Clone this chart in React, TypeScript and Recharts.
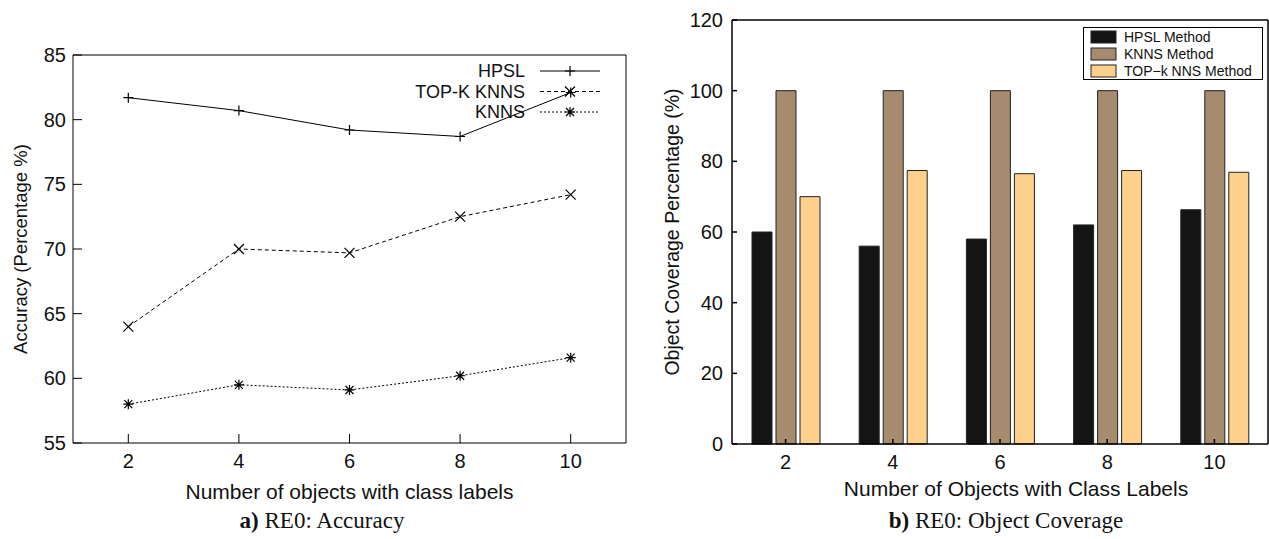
import { LineChart, Line, BarChart, Bar, XAxis, YAxis, Legend } from "recharts";

// left panel: accuracy vs number of labelled objects
const xValues = [2, 4, 6, 8, 10];
const hpslAccuracy = [81.7, 80.7, 79.2, 78.7, 82.1];
const topKAccuracy = [64.0, 70.0, 69.7, 72.5, 74.2];
const knnsAccuracy = [58.0, 59.5, 59.1, 60.2, 61.6];
const accuracyTicks = [55, 60, 65, 70, 75, 80, 85];

// right panel: object coverage
const coverageLabels = ["2", "4", "6", "8", "10"];
const hpslCoverage = [60, 56, 58, 62, 66.3];
const knnsCoverage = [100, 100, 100, 100, 100];
const topKCoverage = [70, 77.4, 76.5, 77.4, 76.9];
const coverageTicks = [0, 20, 40, 60, 80, 100, 120];

const accuracyData = xValues.map((x, i) => ({
  x,
  hpsl: hpslAccuracy[i],
  topk: topKAccuracy[i],
  knns: knnsAccuracy[i],
}));

const coverageData = coverageLabels.map((label, i) => ({
  label,
  hpsl: hpslCoverage[i],
  knns: knnsCoverage[i],
  topk: topKCoverage[i],
}));

const SANS = "'Liberation Sans', Arial, sans-serif";
const SERIF = "'Liberation Serif', 'Times New Roman', serif";

const Marker = ({ kind, cx, cy }: { kind: string; cx: number; cy: number }) => {
  const r = 5;
  let d = "";
  if (kind === "plus") d = `M${cx - r},${cy}H${cx + r}M${cx},${cy - r}V${cy + r}`;
  else if (kind === "cross")
    d = `M${cx - r},${cy - r}L${cx + r},${cy + r}M${cx - r},${cy + r}L${cx + r},${cy - r}`;
  else
    d = `M${cx - r},${cy}H${cx + r}M${cx},${cy - r}V${cy + r}M${cx - 4},${cy - 4}L${cx + 4},${cy + 4}M${cx - 4},${cy + 4}L${cx + 4},${cy - 4}`;
  return <path d={d} stroke="#000" strokeWidth={1.2} fill="none" />;
};

const markerOf: Record<string, string> = { hpsl: "plus", topk: "cross", knns: "star" };
const lineOrder = ["hpsl", "topk", "knns"];
const barOrder = ["hpsl", "knns", "topk"];

const sortBy = (payload: any[], order: string[]) =>
  [...(payload || [])].sort((a, b) => order.indexOf(a.dataKey) - order.indexOf(b.dataKey));

const AccuracyLegend = ({ payload }: any) => (
  <svg width={230} height={64}>
    {sortBy(payload, lineOrder).map((entry: any, i: number) => {
      const y = 11 + i * 20.5;
      return (
        <g key={entry.dataKey}>
          <text x={145} y={y} textAnchor="end" dominantBaseline="central" fontSize={18} fontFamily={SANS} fill="#111">
            {entry.value}
          </text>
          <line x1={160} x2={220} y1={y} y2={y} stroke="#000" strokeWidth={1} strokeDasharray={entry.payload?.strokeDasharray} />
          <Marker kind={markerOf[entry.dataKey]} cx={190} cy={y} />
        </g>
      );
    })}
  </svg>
);

const CoverageLegend = ({ payload }: any) => (
  <div style={{ width: 178, height: 51, border: "1.5px solid #000", background: "#fff" }}>
    <svg width={178} height={51}>
      {sortBy(payload, barOrder).map((entry: any, i: number) => {
        const y = 9 + i * 17;
        return (
          <g key={entry.dataKey}>
            <rect x={7} y={y - 6} width={25} height={12} fill={entry.color} stroke="#222" strokeWidth={1} />
            <text x={40} y={y} dominantBaseline="central" fontSize={14} fontFamily={SANS} fill="#111">
              {entry.value}
            </text>
          </g>
        );
      })}
    </svg>
  </div>
);

const tickStyle = { fill: "#111", fontSize: 20, fontFamily: SANS };
const titleStyle = { fill: "#111", fontSize: 21, fontFamily: SANS };

export default function App() {
  return (
    <div style={{ position: "absolute", left: 0, top: 0, width: 1269, height: 539, background: "#fff", overflow: "hidden" }}>
      <div style={{ position: "absolute", left: 0, top: 0 }}>
        <LineChart width={640} height={539} data={accuracyData} margin={{ top: 55, right: 14, bottom: 36, left: 0 }}>
          <XAxis
            dataKey="x"
            type="number"
            domain={[1, 11]}
            ticks={xValues}
            height={60}
            stroke="#000"
            tickSize={-9}
            tickMargin={20}
            tick={tickStyle}
            label={{ value: "Number of objects with class labels", position: "insideTop", offset: 41, style: titleStyle }}
          />
          <XAxis xAxisId="top" dataKey="x" type="number" domain={[1, 11]} ticks={xValues} orientation="top" mirror tick={false} tickSize={9} stroke="#000" />
          <YAxis
            type="number"
            domain={[55, 85]}
            ticks={accuracyTicks}
            width={73}
            stroke="#000"
            tickSize={-9}
            tickMargin={16}
            tick={tickStyle}
            label={{ value: "Accuracy (Percentage %)", angle: -90, position: "insideLeft", offset: 20, style: { ...titleStyle, fontSize: 18.5, textAnchor: "middle" } }}
          />
          <YAxis yAxisId="right" type="number" domain={[55, 85]} ticks={accuracyTicks} orientation="right" mirror tick={false} tickSize={9} stroke="#000" />
          <Legend layout="vertical" align="center" verticalAlign="middle" content={<AccuracyLegend />} wrapperStyle={{ left: 380, top: 60, width: 230 }} />
          <Line dataKey="hpsl" name="HPSL" stroke="#000" strokeWidth={1} dot={(p: any) => <Marker key={p.index} kind="plus" cx={p.cx} cy={p.cy} />} isAnimationActive={false} />
          <Line dataKey="topk" name="TOP-K KNNS" stroke="#000" strokeWidth={1} strokeDasharray="4 3" dot={(p: any) => <Marker key={p.index} kind="cross" cx={p.cx} cy={p.cy} />} isAnimationActive={false} />
          <Line dataKey="knns" name="KNNS" stroke="#000" strokeWidth={1} strokeDasharray="2 2" dot={(p: any) => <Marker key={p.index} kind="star" cx={p.cx} cy={p.cy} />} isAnimationActive={false} />
        </LineChart>
      </div>

      <div style={{ position: "absolute", left: 640, top: 0 }}>
        <BarChart width={629} height={539} data={coverageData} margin={{ top: 20, right: 1, bottom: 35, left: 0 }} barGap={4} barCategoryGap={38}>
          <XAxis
            dataKey="label"
            height={60}
            stroke="#000"
            strokeWidth={1.5}
            tickSize={-5}
            tickMargin={16}
            tick={tickStyle}
            label={{ value: "Number of Objects with Class Labels", position: "insideTop", offset: 37, dx: 16, style: titleStyle }}
          />
          <XAxis xAxisId="top" dataKey="label" orientation="top" mirror tick={false} tickSize={5} stroke="#000" strokeWidth={1.5} />
          <YAxis
            type="number"
            domain={[0, 120]}
            ticks={coverageTicks}
            width={92}
            stroke="#000"
            strokeWidth={1.5}
            tickSize={-5}
            tickMargin={14}
            tick={tickStyle}
            label={{ value: "Object Coverage Percentage (%)", angle: -90, position: "insideLeft", offset: 32, style: { ...titleStyle, fontSize: 19.5, textAnchor: "middle" } }}
          />
          <YAxis yAxisId="right" type="number" domain={[0, 120]} ticks={coverageTicks} orientation="right" mirror tick={false} tickSize={5} stroke="#000" strokeWidth={1.5} />
          <Legend layout="vertical" align="center" verticalAlign="middle" content={<CoverageLegend />} wrapperStyle={{ left: 443, top: 27, width: 181 }} />
          <Bar dataKey="hpsl" name="HPSL Method" fill="#141414" stroke="#222" strokeWidth={1} barSize={20} isAnimationActive={false} />
          <Bar dataKey="knns" name="KNNS Method" fill="#a68b6e" stroke="#222" strokeWidth={1} barSize={20} isAnimationActive={false} />
          <Bar dataKey="topk" name="TOP−k NNS Method" fill="#fdd18c" stroke="#222" strokeWidth={1} barSize={20} isAnimationActive={false} />
        </BarChart>
      </div>

      <div style={{ position: "absolute", left: 172, width: 300, top: 509, lineHeight: "23px", textAlign: "center", fontFamily: SERIF, fontSize: 23, color: "#111" }}>
        <b>a)</b> RE0: Accuracy
      </div>
      <div style={{ position: "absolute", left: 856, width: 300, top: 509, lineHeight: "23px", textAlign: "center", fontFamily: SERIF, fontSize: 23, color: "#111" }}>
        <b>b)</b> RE0: Object Coverage
      </div>
    </div>
  );
}
